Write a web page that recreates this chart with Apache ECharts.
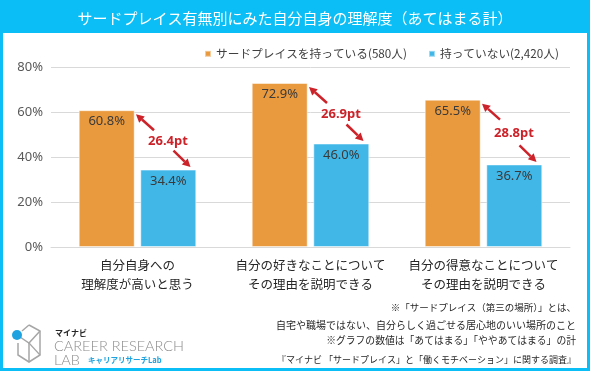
<!DOCTYPE html>
<html><head><meta charset="utf-8">
<script src="https://cdn.jsdelivr.net/npm/echarts@6/dist/echarts.min.js"></script>
<style>html,body{margin:0;padding:0;background:#fff}#c{width:590px;height:371px}</style>
</head><body><div id="c"></div>
<script>
const titleText = 'サードプレイス有無別にみた自分自身の理解度（あてはまる計）';
const categories = ['自分自身への\n理解度が高いと思う', '自分の好きなことについて\nその理由を説明できる', '自分の得意なことについて\nその理由を説明できる'];
const seriesNames = ['サードプレイスを持っている(580人)', '持っていない(2,420人)'];
const haveValues = [60.8, 72.9, 65.5];
const notHaveValues = [34.4, 46.0, 36.7];
const diffLabels = ['26.4pt', '26.9pt', '28.8pt'];
const yTicks = [0, 20, 40, 60, 80];
const notes = ['※「サードプレイス（第三の場所）」とは、', '自宅や職場ではない、自分らしく過ごせる居心地のいい場所のこと', '※グラフの数値は「あてはまる」「ややあてはまる」の計', '『マイナビ 「サードプレイス」と「働くモチベーション」に関する調査』'];

const FONT = '"Noto Sans CJK JP", "Noto Sans", sans-serif';
const FRAME = '#0BBEF5';
const RED = '#CC2229';

const arrowData = categories.map((c, i) => [i, haveValues[i], notHaveValues[i], diffLabels[i]]);

function arrow(x1, y1, x2, y2) {
  const dx = x2 - x1, dy = y2 - y1, L = Math.sqrt(dx*dx + dy*dy);
  const ux = dx / L, uy = dy / L, hl = 8, hw = 4.2;
  const bx = x2 - ux*hl, by = y2 - uy*hl;
  return [
    {type: 'line', shape: {x1: x1, y1: y1, x2: bx, y2: by}, style: {stroke: RED, lineWidth: 2.5}},
    {type: 'polygon', shape: {points: [[x2, y2], [bx - uy*hw, by + ux*hw], [bx + uy*hw, by - ux*hw]]}, style: {fill: RED}}
  ];
}

const chart = echarts.init(document.getElementById('c'), null, {renderer: 'canvas'});
chart.setOption({
  animation: false,
  textStyle: {fontFamily: FONT},
  title: {text: titleText, left: 'center', top: 6, textStyle: {color: '#fff', fontSize: 15, fontWeight: 'normal', fontFamily: FONT}},
  legend: {
    data: seriesNames, left: 199, top: 43, itemWidth: 6, itemHeight: 6, itemGap: 21, icon: 'rect',
    textStyle: {fontSize: 11.7, color: '#404040', fontFamily: FONT}
  },
  grid: {left: 51, right: 20, top: 67, bottom: 124},
  xAxis: {
    type: 'category', data: categories,
    axisLine: {lineStyle: {color: '#d9d9d9', width: 1}}, axisTick: {show: false},
    axisLabel: {color: '#262626', fontSize: 12.5, lineHeight: 19, margin: 9, interval: 0, fontFamily: FONT}
  },
  yAxis: {
    type: 'value', min: yTicks[0], max: yTicks[yTicks.length - 1], interval: yTicks[1] - yTicks[0],
    axisLine: {show: false}, axisTick: {show: false},
    axisLabel: {formatter: '{value}%', color: '#595959', fontSize: 13, margin: 8, fontFamily: 'Noto Sans, sans-serif'},
    splitLine: {lineStyle: {color: '#d9d9d9', width: 1}}
  },
  series: [
    {name: seriesNames[0], type: 'bar', data: haveValues, barWidth: 56, barGap: '10%',
      itemStyle: {color: '#E99A3F', borderColor: 'rgba(255,255,255,0.5)', borderWidth: 1},
      label: {show: true, position: 'insideTop', distance: 5, formatter: p => p.value.toFixed(1) + '%', color: '#3a3a3a', fontSize: 13, fontFamily: 'Noto Sans, sans-serif'}},
    {name: seriesNames[1], type: 'bar', data: notHaveValues, barWidth: 56,
      itemStyle: {color: '#41B7E8', borderColor: 'rgba(255,255,255,0.5)', borderWidth: 1},
      label: {show: true, position: 'insideTop', distance: 5, formatter: p => p.value.toFixed(1) + '%', color: '#3a3a3a', fontSize: 13, fontFamily: 'Noto Sans, sans-serif'}},
    {type: 'custom', data: arrowData, z: 10, encode: {x: 0, y: [1, 2]},
      renderItem: function (params, api) {
        const idx = api.value(0);
        const p1 = api.coord([idx, api.value(1)]);
        const p2 = api.coord([idx, api.value(2)]);
        const cx = p1[0], t1 = p1[1], t2 = p2[1];
        const mid = (t1 + t2) / 2;
        const children = []
          .concat(arrow(cx + 16.5, t1 + 20, cx - 1.5, t1 + 4))
          .concat(arrow(cx + 36, t2 - 19, cx + 53, t2 - 2.5));
        children.push({type: 'text', style: {text: arrowData[params.dataIndex][3], x: cx + 30.5, y: mid + 1.5, align: 'center', verticalAlign: 'middle', fill: RED, fontSize: 13, fontWeight: 'bold', fontFamily: 'Noto Sans, sans-serif'}});
        return {type: 'group', children: children};
      }}
  ],
  graphic: [
    {type: 'rect', shape: {x: 0, y: 0, width: 590, height: 33}, style: {fill: FRAME}, z: -1},
    {type: 'rect', shape: {x: 0, y: 0, width: 3, height: 371}, style: {fill: FRAME}},
    {type: 'rect', shape: {x: 587, y: 0, width: 3, height: 371}, style: {fill: FRAME}},
    {type: 'rect', shape: {x: 0, y: 368, width: 590, height: 3}, style: {fill: FRAME}},
    {type: 'text', style: {text: notes[0], x: 576, y: 307, align: 'right', verticalAlign: 'middle', fontSize: 9.5, fill: '#262626', fontFamily: FONT}},
    {type: 'text', style: {text: notes[1], x: 576, y: 325, align: 'right', verticalAlign: 'middle', fontSize: 10, fill: '#262626', fontFamily: FONT}},
    {type: 'text', style: {text: notes[2], x: 576, y: 340, align: 'right', verticalAlign: 'middle', fontSize: 9.8, fill: '#262626', fontFamily: FONT}},
    {type: 'text', style: {text: notes[3], x: 576, y: 360, align: 'right', verticalAlign: 'middle', fontSize: 9, fill: '#262626', fontFamily: FONT}},
    // logo
    {type: 'polyline', shape: {points: [[29, 325], [40, 331], [40, 355], [29, 362], [18, 355], [18, 343]]}, style: {stroke: '#A6A6A6', lineWidth: 1.5, fill: null}},
    {type: 'polyline', shape: {points: [[22, 331], [29, 325]]}, style: {stroke: '#A6A6A6', lineWidth: 1.5, fill: null}},
    {type: 'polyline', shape: {points: [[17, 335], [29, 343], [40, 331]]}, style: {stroke: '#A6A6A6', lineWidth: 1.5, fill: null}},
    {type: 'polyline', shape: {points: [[29, 343], [29, 362]]}, style: {stroke: '#A6A6A6', lineWidth: 1.5, fill: null}},
    {type: 'polyline', shape: {points: [[29, 343], [40, 355]]}, style: {stroke: '#A6A6A6', lineWidth: 1.2, fill: null}},
    {type: 'circle', shape: {cx: 17, cy: 335, r: 5}, style: {fill: '#1FA3E0'}},
    {type: 'text', style: {text: 'マイナビ', x: 55, y: 333, verticalAlign: 'middle', fontSize: 8, fontWeight: 'bold', fill: '#262626', fontFamily: FONT}},
    {type: 'text', style: {text: 'CAREER RESEARCH', x: 54, y: 346, verticalAlign: 'middle', fontSize: 14.5, fontWeight: 300, fill: '#8C8C8C', fontFamily: 'Lato, sans-serif'}},
    {type: 'text', style: {text: 'LAB', x: 54, y: 360, verticalAlign: 'middle', fontSize: 14.5, fontWeight: 300, fill: '#8C8C8C', fontFamily: 'Lato, sans-serif'}},
    {type: 'text', style: {text: 'キャリアリサーチLab', x: 88, y: 360, verticalAlign: 'middle', fontSize: 7.5, fontWeight: 'bold', fill: '#1FA3E0', fontFamily: FONT}}
  ]
});
</script></body></html>
